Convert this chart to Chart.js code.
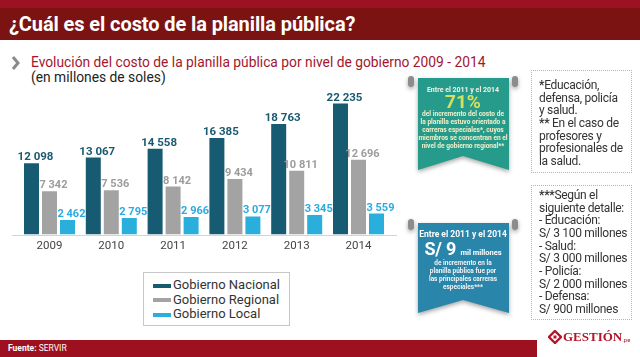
<!DOCTYPE html>
<html><head><meta charset="utf-8">
<script src="https://cdn.jsdelivr.net/npm/chart.js@4.4.1/dist/chart.umd.min.js"></script>
<style>
html,body{margin:0;padding:0;}
body{width:640px;height:357px;position:relative;overflow:hidden;background:#fff;font-family:Roboto,"Open Sans",sans-serif;}
.abs{position:absolute;}
#topstrip{left:0;top:0;width:640px;height:8px;background:#9d1222;}
#band{left:0;top:8px;width:640px;height:32px;background:#7a1312;}
#title{left:9px;top:8px;height:32px;line-height:32px;color:#fff;font-weight:700;font-size:20px;white-space:nowrap;letter-spacing:-0.1px;}
#chev{left:11px;top:56px;}
#subtitle{left:31px;top:53px;font-size:13.8px;line-height:18px;color:#a3162e;white-space:nowrap;}
#subtitle2{left:31px;top:68px;font-size:13.8px;line-height:18px;color:#222;white-space:nowrap;}
#chartbox{left:0;top:80px;width:400px;height:190px;}
#legend{left:143px;top:272px;width:147px;height:54px;border:1px solid #c8c8c8;box-sizing:border-box;padding-top:5px;}
.li{height:14.5px;line-height:14.5px;font-size:13px;color:#333;white-space:nowrap;position:relative;padding-left:29px;}
.sw{position:absolute;left:9px;top:5.5px;width:18px;height:4px;}
.note{border:1px dotted #b5b5b5;box-sizing:border-box;font-size:12px;line-height:12.67px;color:#333;padding-left:7px;white-space:nowrap;letter-spacing:-0.3px;}
#note1{left:531px;top:70px;width:101px;height:103px;padding-top:8px;}
#note2{left:531px;top:185px;width:101px;height:135px;padding-top:3px;}
.bt{width:92px;text-align:center;font-weight:700;white-space:nowrap;}
#footer{left:0;top:340px;width:537px;height:17px;background:#9c1020;}
#fuente{left:8px;top:340px;line-height:17px;font-size:8.5px;color:#fff;}
#logo{left:548px;top:329px;height:15px;display:flex;align-items:center;white-space:nowrap;}
</style></head>
<body>
<div id="topstrip" class="abs"></div>
<div id="band" class="abs"></div>
<div id="title" class="abs">¿Cuál es el costo de la planilla pública?</div>
<svg id="chev" class="abs" width="10" height="14"><polyline points="2,1 7,7 2,13" fill="none" stroke="#8a8a8a" stroke-width="3"/></svg>
<div id="subtitle" class="abs">Evolución del costo de la planilla pública por nivel de gobierno 2009 - 2014</div>
<div id="subtitle2" class="abs">(en millones de soles)</div>
<div id="chartbox" class="abs"><canvas id="c"></canvas></div>
<div id="legend" class="abs"></div>

<svg class="abs" style="left:400px;top:60px;filter:drop-shadow(0 2px 2px rgba(0,0,0,0.35));" width="130" height="270">
  <polygon points="18,18 109,18 109,110 63,96 18,110" fill="#279b8b"/>
  <rect x="8" y="16" width="6" height="11" rx="3" fill="#8c8c8c"/>
  <rect x="112" y="16" width="6" height="11" rx="3" fill="#8c8c8c"/>
  <polygon points="18,163 109,163 109,253 63,240 18,253" fill="#2985a9"/>
  <rect x="8" y="159" width="6" height="11" rx="3" fill="#8c8c8c"/>
  <rect x="112" y="159" width="6" height="11" rx="3" fill="#8c8c8c"/>
</svg>
<div class="abs bt" style="left:417px;top:86px;font-size:7px;line-height:9px;color:#f4f3e2;">Entre el 2011 y el 2014</div>
<div class="abs bt" style="left:417px;top:91px;font-size:19px;line-height:22px;color:#d6e05c;">71%</div>
<div class="abs bt" style="left:417px;top:110px;font-size:6.6px;line-height:8px;color:#f1efc8;">del incremento del costo de<br>la planilla estuvo orientado a<br>carreras especiales*, cuyos<br>miembros se concentran en el<br>nivel de gobierno regional**</div>
<div class="abs bt" style="left:417px;top:229px;font-size:8.5px;line-height:10px;color:#fff;">Entre el 2011 y el 2014</div>
<div class="abs bt" style="left:417px;top:238px;font-size:18px;line-height:22px;color:#fff;letter-spacing:-0.2px;">S/ 9 <span style="font-size:7.5px;letter-spacing:0;">mil millones</span></div>
<div class="abs bt" style="left:417px;top:259px;font-size:6.5px;line-height:8px;color:#f2f2f2;">de incremento en la<br>planilla pública fue por<br>las principales carreras<br>especiales***</div>

<div id="note1" class="abs note"><b>*</b>Educación,<br>defensa, policía<br>y salud.<br><b>**</b> En el caso de<br>profesores y<br>profesionales de<br>la salud.</div>
<div id="note2" class="abs note"><b>***</b>Según el<br>siguiente detalle:<br>- Educación:<br>S/ 3 100 millones<br>- Salud:<br>S/ 3 000 millones<br>- Policía:<br>S/ 2 000 millones<br>- Defensa:<br>S/ 900 millones</div>

<div id="footer" class="abs"></div>
<div id="fuente" class="abs"><b>Fuente:</b> SERVIR</div>
<div id="logo" class="abs">
  <svg width="14" height="14"><polygon points="7,1 13,7 7,13 1,7" fill="none" stroke="#b3172b" stroke-width="2.4"/><rect x="5.5" y="5.5" width="3" height="3" fill="#b3172b"/></svg><span style="font-family:'Liberation Serif',serif;font-weight:700;font-size:13px;line-height:15px;color:#b3172b;margin-left:1px;">GESTIÓN</span><span style="font-size:6px;line-height:15px;color:#b3172b;padding-top:5px;">.pe</span>
</div>

<script>
const years = ['2009','2010','2011','2012','2013','2014'];
const seriesNames = ['Gobierno Nacional','Gobierno Regional','Gobierno Local'];
const nacional = [12098,13067,14558,16385,18763,22235];
const regional = [7342,7536,8142,9434,10811,12696];
const local = [2462,2795,2966,3077,3345,3559];
const barColors = ['#175b73','#a3a3a3','#2aafdc'];
const labelColors = ['#1a5a70','#9c9c9c','#2aabdf'];

function fmt(v){return String(v).replace(/\B(?=(\d{3})+(?!\d))/g,' ');}

const lg = document.getElementById('legend');
seriesNames.forEach((n,i)=>{
  const d=document.createElement('div');d.className='li';
  d.innerHTML='<span class="sw" style="background:'+barColors[i]+'"></span>'+n;
  lg.appendChild(d);
});

const labelPlugin = {
  id:'vlabels',
  afterDatasetsDraw(chart){
    const c=chart.ctx; c.save();
    chart.data.datasets.forEach((ds,i)=>{
      const meta=chart.getDatasetMeta(i);
      c.fillStyle=labelColors[i];
      c.font='bold '+(i===0?11.5:11)+'px Roboto';
      c.textAlign='center'; c.textBaseline='alphabetic';
      meta.data.forEach((bar,j)=>{ c.fillText(fmt(ds.data[j]), bar.x+4, bar.y-3); });
    });
    c.restore();
  }
};
const basePlugin = {
  id:'baseline',
  beforeDatasetsDraw(chart){
    const c=chart.ctx, y=Math.round(chart.scales.y.getPixelForValue(0))+0.5;
    c.save(); c.strokeStyle='#d4d4d4'; c.lineWidth=1;
    c.beginPath(); c.moveTo(12,y); c.lineTo(397,y); c.stroke(); c.restore();
  }
};

new Chart(document.getElementById('c'),{
  type:'bar',
  data:{labels:years,datasets:[
    {label:seriesNames[0],data:nacional,backgroundColor:barColors[0]},
    {label:seriesNames[1],data:regional,backgroundColor:barColors[1]},
    {label:seriesNames[2],data:local,backgroundColor:barColors[2]}
  ]},
  options:{
    responsive:true,maintainAspectRatio:false,animation:false,
    layout:{padding:{left:18.6,right:10.6,top:7.2,bottom:11.6}},
    datasets:{bar:{categoryPercentage:0.874,barPercentage:0.833}},
    plugins:{legend:{display:false},tooltip:{enabled:false}},
    scales:{
      x:{grid:{display:false,drawTicks:false,tickLength:0},border:{display:false},
         ticks:{color:'#444',font:{size:11.5,family:'Roboto'},padding:5}},
      y:{display:false,min:0,max:25000}
    }
  },
  plugins:[labelPlugin,basePlugin]
});
</script>
</body></html>
